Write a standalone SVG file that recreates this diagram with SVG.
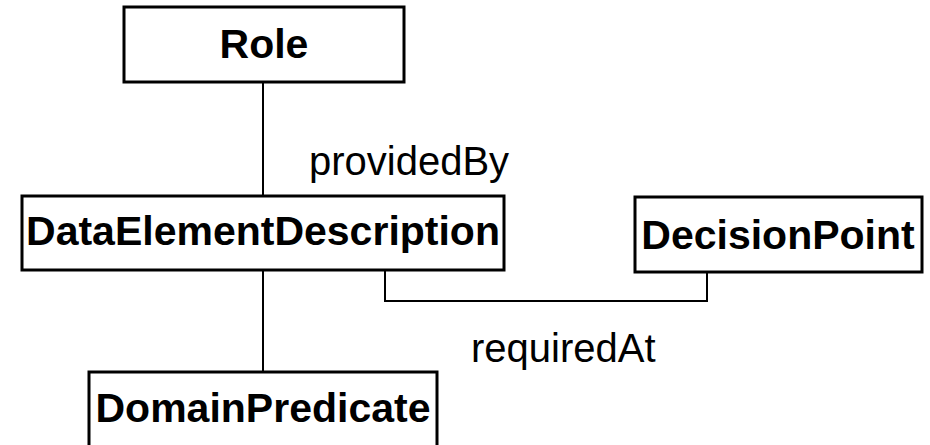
<svg xmlns="http://www.w3.org/2000/svg" width="930" height="445" viewBox="0 0 930 445">
<style>
.box{fill:#fff;stroke:#000;stroke-width:3}
.name{font-family:"Liberation Sans",Arial,sans-serif;font-weight:bold;font-size:41px;text-anchor:middle}
.lbl{font-family:"Liberation Sans",Arial,sans-serif;font-size:40px}
.conn{fill:none;stroke:#000;stroke-width:2}
</style>
<rect width="930" height="445" fill="#fff"/>
<g id="connectors">
<line class="conn" x1="263" y1="82" x2="263" y2="196"/>
<polyline class="conn" points="385,270 385,301 707,301 707,272"/>
<line class="conn" x1="263" y1="270" x2="263" y2="372"/>
<text class="lbl" x="309" y="175">providedBy</text>
<text class="lbl" x="471" y="362">requiredAt</text>
</g>
<g id="role">
<rect class="box" x="124" y="7" width="280" height="75"/>
<text class="name" x="264" y="58">Role</text>
</g>
<g id="dataElementDescription">
<rect class="box" x="22" y="196" width="482" height="74"/>
<text class="name" x="263" y="245">DataElementDescription</text>
</g>
<g id="decisionPoint">
<rect class="box" x="635" y="197" width="287" height="75"/>
<text class="name" x="778" y="249">DecisionPoint</text>
</g>
<g id="domainPredicate">
<rect class="box" x="89" y="372" width="348" height="80"/>
<text class="name" x="263" y="422">DomainPredicate</text>
</g>
</svg>
